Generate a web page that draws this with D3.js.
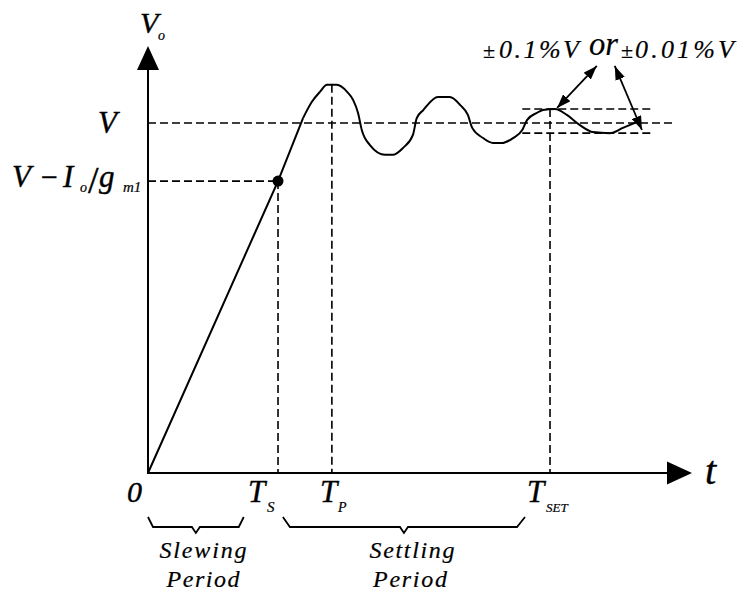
<!DOCTYPE html>
<html><head><meta charset="utf-8">
<script src="https://cdn.jsdelivr.net/npm/d3@7"></script>
<style>body{margin:0;background:#fff}svg{display:block}</style>
</head><body>
<script>
// ---- data (time in arbitrary units, voltage normalised to V = 1) ----
const responseT = [0, 23.9, 28.5, 30.1, 31.6, 32.9, 34.7, 36.6, 37.7, 38.6, 39.3, 40.8, 43.6, 45.0, 46.9, 48.7, 49.4, 50.6, 53.3, 55.5, 57.4, 58.8, 59.6, 61.6, 63.4, 65.1, 67.1, 68.8, 69.7, 71.5, 72.6, 74.8, 77.0, 79.4, 81.8, 84.9, 87.3, 90.4];
const responseV = [0, 0.834, 1.014, 1.060, 1.089, 1.109, 1.109, 1.089, 1.066, 1.029, 0.980, 0.937, 0.909, 0.909, 0.929, 0.966, 1.014, 1.037, 1.074, 1.074, 1.051, 1.023, 0.986, 0.957, 0.943, 0.943, 0.957, 0.980, 1.009, 1.029, 1.037, 1.040, 1.023, 0.994, 0.974, 0.971, 0.986, 1.006];
const markerTimes = [23.9, 33.8, 73.9];          // T_S, T_P, T_SET
const markerMain = ["T", "T", "T"];
const markerSub = ["S", "P", "SET"];
const slewEndV = 0.834;                           // V - Io/gm1
const finalV = 1.0;                               // V
const bandV = [0.971, 1.040];                     // tolerance band
const bandT = [68.8, 92.8];
const finalLineEndT = 96.5;
const peakV = 1.109;
const arrowFromT = [82.5, 85.8], arrowFromV = [1.163, 1.163];
const arrowToT = [75.2, 90.8], arrowToV = [1.043, 0.980];
const braceStartT = [0, 24.8], braceEndT = [17.6, 69.3];
const braceLabel1 = ["Slewing", "Settling"], braceLabel2 = ["Period", "Period"];
const tMax = 100, vTop = 1.22;

const W = 737, H = 592;
const svg = d3.select("body").append("svg").attr("width", W).attr("height", H);
const x = d3.scaleLinear().domain([0, tMax]).range([148, 692]);
const y = d3.scaleLinear().domain([0, 1]).range([473, 123]);

const defs = svg.append("defs");
defs.append("marker").attr("id", "ah").attr("viewBox", "0 0 14 10").attr("refX", 14).attr("refY", 5)
  .attr("markerWidth", 14).attr("markerHeight", 10).attr("markerUnits", "userSpaceOnUse")
  .attr("orient", "auto-start-reverse")
  .append("path").attr("d", "M0,0L14,5L0,10Z").attr("fill", "#000");

const dash = "8,4";
svg.append("line").attr("x1", x(0)).attr("x2", x(finalLineEndT)).attr("y1", y(finalV)).attr("y2", y(finalV))
  .attr("stroke", "#000").attr("stroke-width", 1.6).attr("stroke-dasharray", dash);
svg.append("line").attr("x1", x(0)).attr("x2", x(markerTimes[0])).attr("y1", y(slewEndV)).attr("y2", y(slewEndV))
  .attr("stroke", "#000").attr("stroke-width", 1.6).attr("stroke-dasharray", dash);
bandV.forEach(v => svg.append("line").attr("x1", x(bandT[0])).attr("x2", x(bandT[1])).attr("y1", y(v)).attr("y2", y(v))
  .attr("stroke", "#000").attr("stroke-width", 1.6).attr("stroke-dasharray", dash));
const vTopVals = [slewEndV, peakV, bandV[1]];
markerTimes.forEach((t, i) => svg.append("line").attr("x1", x(t)).attr("x2", x(t)).attr("y1", y(vTopVals[i])).attr("y2", y(0))
  .attr("stroke", "#000").attr("stroke-width", 1.6).attr("stroke-dasharray", dash));

// axes
svg.append("line").attr("x1", x(0)).attr("x2", x(0)).attr("y1", y(0) + 1).attr("y2", y(vTop) + 20)
  .attr("stroke", "#000").attr("stroke-width", 2);
svg.append("path").attr("d", `M${x(0)},${y(vTop)}L${x(0) - 11},${y(vTop) + 24}L${x(0) + 11},${y(vTop) + 24}Z`).attr("fill", "#000");
svg.append("line").attr("x1", x(0) - 1).attr("x2", x(tMax) - 20).attr("y1", y(0)).attr("y2", y(0))
  .attr("stroke", "#000").attr("stroke-width", 2);
svg.append("path").attr("d", `M${x(tMax)},${y(0)}L${x(tMax) - 25},${y(0) - 11.5}L${x(tMax) - 25},${y(0) + 11.5}Z`).attr("fill", "#000");

// response curve: straight slew segment, then smooth ringing
const idx = d3.range(responseT.length);
const slewLine = d3.line().x(i => x(responseT[i])).y(i => y(responseV[i]));
const ringLine = d3.line().x(i => x(responseT[i])).y(i => y(responseV[i])).curve(d3.curveMonotoneX);
svg.append("path").attr("d", slewLine(idx.slice(0, 3))).attr("fill", "none").attr("stroke", "#000").attr("stroke-width", 2);
svg.append("path").attr("d", ringLine(idx.slice(2))).attr("fill", "none").attr("stroke", "#000").attr("stroke-width", 2);
svg.append("circle").attr("cx", x(markerTimes[0])).attr("cy", y(slewEndV)).attr("r", 5.5).attr("fill", "#000");

arrowFromT.forEach((t, i) => svg.append("line").attr("x1", x(t)).attr("y1", y(arrowFromV[i]))
  .attr("x2", x(arrowToT[i])).attr("y2", y(arrowToV[i])).attr("stroke", "#000").attr("stroke-width", 1.8)
  .attr("marker-start", "url(#ah)").attr("marker-end", "url(#ah)"));

function txt(s, xx, yy, size, opts = {}) {
  const t = svg.append("text").attr("x", xx).attr("y", yy)
    .style("font-family", '"Liberation Serif"')
    .style("font-size", size + "px").style("font-style", opts.style || "italic")
    .attr("fill", "#000").attr("stroke", "#000").attr("stroke-width", opts.sw == null ? 0.4 : opts.sw).text(s);
  if (opts.anchor) t.attr("text-anchor", opts.anchor);
  if (opts.len) t.attr("textLength", opts.len).attr("lengthAdjust", opts.adj || "spacing");
  return t;
}

// y labels
txt("V", 140, 33, 30);
txt("o", 158, 40, 14, {sw: 0.2});
txt("V", 98, 133, 31);
txt("V", 12, 187, 31);
txt("\u2212", 41, 187, 30, {style: "normal"});
txt("I", 63, 187, 31);
txt("o", 80, 192, 14, {sw: 0.2});
txt("/", 88, 193, 38, {style: "normal"});
txt("g", 99, 187, 31);
txt("m1", 123, 192, 15, {sw: 0.2});

// x labels
txt("0", 127, 502, 30);
const mainX = [248, 320, 527];
const subX = [267, 338, 546];
const subSize = [15, 14, 13];
markerTimes.forEach((t, i) => {
  txt(markerMain[i], mainX[i], 502, 31);
  txt(markerSub[i], subX[i], 512, subSize[i], {sw: 0.2});
});
txt("t", 705, 484, 40);

// tolerance text
txt("\u00b1", 483, 58, 22, {style: "normal", sw: 0.2});
txt("0.1%V", 499, 58, 26, {len: 80, sw: 0.2});
txt("or", 589, 55, 33, {len: 29, adj: "spacingAndGlyphs", sw: 0.2});
txt("\u00b1", 621, 58, 22, {style: "normal", sw: 0.2});
txt("0.01%V", 635, 58, 26, {len: 99, sw: 0.2});

// braces
braceStartT.forEach((t0, i) => {
  const a = x(t0), b = x(braceEndT[i]), m = (a + b) / 2;
  const top = y(0) + 44, bot = y(0) + 54;
  svg.append("path").attr("d", `M${a},${top}L${a + 5 + i * 2},${bot}L${m - 4},${bot}L${m},${bot + 6}L${m + 4},${bot}L${b - 5 - i * 3},${bot}L${b},${top}`)
    .attr("fill", "none").attr("stroke", "#000").attr("stroke-width", 1.8);
});
const lab1X = [203, 412], lab2X = [203, 410];
const lab1Len = [87, 85], lab2Len = [73, 74];
braceLabel1.forEach((s, i) => {
  txt(s, lab1X[i], 558, 24, {anchor: "middle", len: lab1Len[i], sw: 0.2});
  txt(braceLabel2[i], lab2X[i], 587, 24, {anchor: "middle", len: lab2Len[i], sw: 0.2});
});
</script>
</body></html>
